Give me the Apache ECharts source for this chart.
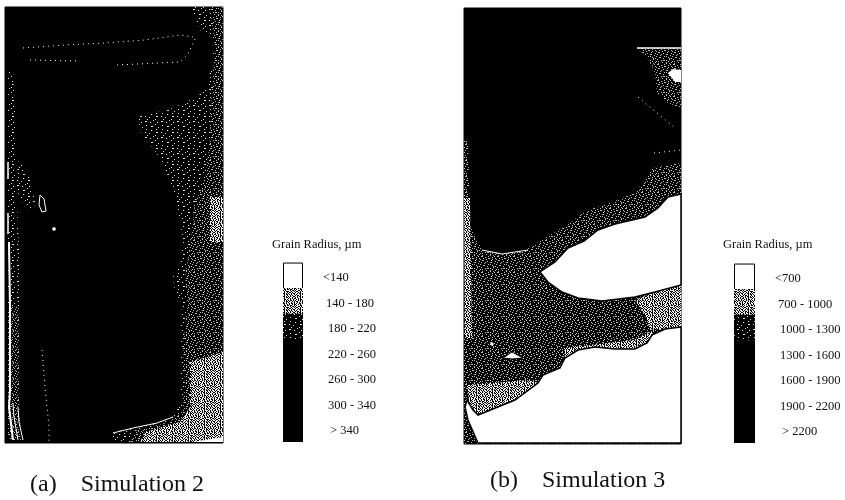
<!DOCTYPE html>
<html>
<head>
<meta charset="utf-8">
<style>html,body{margin:0;padding:0;background:#fff}#main{width:845px;height:500px;filter:blur(0.35px)}</style>
<script src="https://cdn.jsdelivr.net/npm/echarts@6/dist/echarts.min.js"></script>
</head>
<body>
<div id="main"></div>
<script>
// legend classes
var labelsA = ['<140', '140 - 180', '180 - 220', '220 - 260', '260 - 300', '300 - 340', '> 340'];
var labelsB = ['<700', '700 - 1000', '1000 - 1300', '1300 - 1600', '1600 - 1900', '1900 - 2200', '> 2200'];
var bandValues = [1, 1, 1, 1, 1, 1, 1];

// Simulation 2 regions, panel units
var a_coarse = [[185,0],[218,0],[218,435],[112,435],[107,431],[108,425],[128,421],[152,416],[168,410],[177,393],[175,373],[175,343],[177,296],[170,286],[168,270],[175,256],[178,233],[177,226],[172,200],[167,180],[158,156],[148,141],[138,130],[132,110],[168,101],[192,90],[202,80],[208,50],[207,31],[195,23],[190,10]];
var a_mid = [[205,0],[218,0],[218,435],[125,435],[130,424],[165,415],[178,400],[180,378],[178,340],[183,296],[180,270],[185,240],[190,195],[200,175],[205,130],[207,80],[210,40]];
var a_fine1 = [[205,190],[218,190],[218,235],[205,235]];
var a_fine2 = [[218,345],[218,435],[135,435],[140,425],[175,415],[185,400],[185,355]];
var a_wedge = [[188,435],[218,435],[218,430]];
var a_strip1 = [[3,65],[8,65],[12,140],[10,150],[14,240],[14,300],[3,300]];
var a_strip2 = [[3,300],[14,300],[14,390],[16,433],[3,433]];
var a_patch = [[14,152],[27,175],[30,195],[28,205],[20,200],[10,180]];
var a_dot = [[47,221],[50,220],[51,223],[48,224]];
var a_island = [[35,188],[39,192],[41,204],[37,205],[34,198],[35,188]];
var a_edge = [[108,426],[128,421],[152,416],[168,410]];
var a_line1 = [[3,155],[3,172]];
var a_line2 = [[3,206],[3,227]];
var a_line3 = [[4,235],[5,300],[5,383],[4,400],[8,433]];
var a_line4 = [[8,396],[9,410],[13,433]];
var a_line5 = [[13,400],[14,415],[18,433]];
var a_dots1 = [[18,41],[60,38],[100,36],[140,33],[175,28],[188,30]];
var a_dots2 = [[25,53],[75,54]];
var a_dots3 = [[112,58],[175,55],[183,47],[190,32]];
var a_dots4 = [[37,343],[40,380],[44,420],[44,435]];

// Simulation 3 regions, panel units
var b_coarse = [[217,155],[188,160],[179,174],[171,185],[148,194],[118,204],[108,214],[86,227],[61,242],[38,246],[18,242],[6,217],[4,132],[0,132],[0,436],[217,436]];
var b_left = [[0,190],[6,190],[8,330],[1,330]];
var b_mouth = [[217,277],[196,282],[171,292],[181,307],[186,322],[217,319]];
var b_bottom = [[3,377],[66,372],[74,375],[51,392],[14,407],[6,400]];
var b_upper = [[217,160],[188,165],[180,176],[172,188],[150,196],[120,206],[110,216],[95,228],[104,232],[118,222],[134,216],[151,209],[181,200],[194,189],[204,186],[217,186]];
var b_lower = [[100,340],[170,332],[190,322],[183,335],[171,341],[151,341],[131,339],[114,342],[101,350]];
var b_white1 = [[217,186],[204,189],[194,200],[181,209],[151,216],[134,222],[120,233],[104,240],[91,254],[76,264],[84,274],[98,284],[114,290],[138,293],[171,289],[191,284],[217,277]];
var b_white2 = [[217,319],[201,321],[188,327],[183,335],[171,341],[151,341],[131,339],[114,342],[101,350],[96,360],[79,367],[74,375],[51,392],[14,407],[9,402],[3,392],[1,399],[4,412],[14,435],[217,435]];
var b_eye = [[39,350],[48,344],[59,350],[48,351]];
var b_dot = [[26,336],[28,334],[30,336],[28,338]];
var b_patch = [[173,40],[217,40],[217,100],[204,95],[193,85],[191,65],[183,49]];
var b_blob = [[204,65],[209,61],[217,62],[217,74],[211,74]];
var b_top = [[173,40],[217,40]];
var b_arc = [[18,242],[38,246],[64,242]];
var b_dots1 = [[174,89],[211,120]];
var b_dots2 = [[190,145],[217,142]];

// halftone cells of the scan
function halftone(rows, dot) {
    var c = document.createElement('canvas');
    c.width = rows[0].length;
    c.height = rows.length;
    var ctx = c.getContext('2d');
    ctx.fillStyle = '#000';
    ctx.fillRect(0, 0, c.width, c.height);
    ctx.fillStyle = dot;
    rows.forEach(function (r, y) {
        for (var x = 0; x < r.length; x++) {
            if (r[x] === '#') ctx.fillRect(x, y, 1, 1);
        }
    });
    return {image: c, repeat: 'repeat'};
}
var sparse = halftone([
    '................',
    '..#.........#...',
    '.......#........',
    '................',
    '.#..........##..',
    '.....#..........',
    '................',
    '...#.......#....',
    '.........#......',
    '.##.............',
    '......#......#..',
    '................',
    '...........#....',
    '..#.............',
    '.......##.......',
    '..............#.'
], '#ddd');
var mid = halftone([
    '.##.....#.....#.',
    '.....#......#...',
    '...#....##.....#',
    '#.....#.....#...',
    '..##.......#....',
    '.......#.......#',
    '.#...#....##....',
    '....#.........#.',
    '#.......#.#.....',
    '...##.......#...',
    '.......#.....#.#',
    '.#...........#..',
    '.....#.##.#.....',
    '#.#.........#...',
    '......#...#....#',
    '..#.......#..#..'
], '#bbb');
var fine = halftone([
    '#.##.#..##.#.##.',
    '.#..##.#.###..#.',
    '##.#..#.##..#.##',
    '.##.##.#..##.#..',
    '#..#.##.##.#.##.',
    '.##.#..##.#..#.#',
    '#.#.##.#.###.#..',
    '##.#.##.#..#.##.',
    '.#.##..##.#..#.#',
    '#.##.##.#.##.#..',
    '.#.#.#..##.#.###',
    '##.##.##.#.#..#.',
    '.#..#.#.##.#.#.#',
    '#.##.#.#..##.#..',
    '.##.##.##.#.##.#',
    '#.#..#.#.##..#.#'
], '#eee');

function poly(points, grid, fill, stroke, lw) {
    return {
        type: 'custom',
        coordinateSystem: 'cartesian2d',
        xAxisIndex: grid,
        yAxisIndex: grid,
        data: points,
        silent: true,
        animation: false,
        renderItem: function (params, api) {
            if (params.dataIndex !== 0) return null;
            return {
                type: 'polygon',
                shape: {points: points.map(function (p) { return api.coord(p); })},
                style: {fill: fill, stroke: stroke || null, lineWidth: lw || 0}
            };
        }
    };
}

function line(points, grid, width, dash) {
    return {
        type: 'line',
        xAxisIndex: grid,
        yAxisIndex: grid,
        data: points,
        showSymbol: false,
        silent: true,
        animation: false,
        lineStyle: {color: '#fff', width: width, type: dash ? [1, 4] : 'solid'}
    };
}

function legendSeries(grid) {
    var fills = ['#fff', fine, sparse, '#000', '#000', '#000', '#000'];
    return {
        type: 'bar',
        xAxisIndex: grid,
        yAxisIndex: grid,
        barWidth: 26.5,
        silent: true,
        animation: false,
        data: bandValues.map(function (v, i) {
            return {value: v, itemStyle: {color: fills[i], borderColor: '#000', borderWidth: i === 0 ? 1 : 0}};
        })
    };
}

function legendLabels(list) {
    var indent = [0, 3, 5, 5, 5, 5, 7];
    return list.map(function (t, i) {
        return {value: t, textStyle: {padding: [0, 0, 0, indent[i]]}};
    });
}

function panelX(grid, max) {
    return {gridIndex: grid, type: 'value', min: 0, max: max, show: false};
}
function panelY(grid, max) {
    return {gridIndex: grid, type: 'value', min: 0, max: max, inverse: true, show: false};
}
function bandY(grid, list) {
    return {gridIndex: grid, type: 'category', inverse: true, data: list, show: false};
}
// labels sit on their own axis, a touch lower than the bands
function labelY(grid, list) {
    return {
        gridIndex: grid, type: 'category', inverse: true, position: 'right', data: legendLabels(list),
        axisLine: {show: false}, axisTick: {show: false},
        axisLabel: {margin: 20, align: 'left', interval: 0, color: '#111', fontFamily: 'Liberation Serif', fontSize: 12.5}
    };
}

var serif = 'Liberation Serif';
var option = {
    backgroundColor: '#fff',
    animation: false,
    title: [
        {text: 'Grain Radius, µm', left: 272, top: 238, textStyle: {fontFamily: serif, fontSize: 12.5, fontWeight: 'normal', color: '#111'}, padding: 0},
        {text: 'Grain Radius, µm', left: 723, top: 238, textStyle: {fontFamily: serif, fontSize: 12.5, fontWeight: 'normal', color: '#111'}, padding: 0},
        {text: '(a)    Simulation 2', left: 30, top: 473, textStyle: {fontFamily: serif, fontSize: 24, fontWeight: 'normal', color: '#111'}, padding: 0},
        {text: '(b)    Simulation 3', left: 490, top: 469, textStyle: {fontFamily: serif, fontSize: 24, fontWeight: 'normal', color: '#111'}, padding: 0}
    ],
    grid: [
        {left: 5, top: 7, width: 218, height: 436, show: true, backgroundColor: '#000', borderColor: '#000', borderWidth: 1},
        {left: 464, top: 8, width: 217, height: 436, show: true, backgroundColor: '#000', borderColor: '#000', borderWidth: 1},
        {left: 283, top: 263, width: 20, height: 179},
        {left: 734, top: 264, width: 21, height: 179},
        {left: 283, top: 265, width: 20, height: 179},
        {left: 734, top: 266, width: 21, height: 179}
    ],
    xAxis: [
        panelX(0, 218), panelX(1, 217),
        {gridIndex: 2, type: 'value', min: 0, max: 1, show: false},
        {gridIndex: 3, type: 'value', min: 0, max: 1, show: false},
        {gridIndex: 4, type: 'value', min: 0, max: 1, show: false},
        {gridIndex: 5, type: 'value', min: 0, max: 1, show: false}
    ],
    yAxis: [
        panelY(0, 436), panelY(1, 436),
        bandY(2, labelsA), bandY(3, labelsB),
        labelY(4, labelsA), labelY(5, labelsB)
    ],
    series: [
        poly(a_coarse, 0, sparse),
        poly(a_mid, 0, mid),
        poly(a_fine1, 0, fine),
        poly(a_fine2, 0, fine),
        poly(a_strip1, 0, sparse),
        poly(a_strip2, 0, mid),
        poly(a_patch, 0, sparse),
        poly(a_wedge, 0, '#fff'),
        poly(a_dot, 0, '#fff'),
        line(a_island, 0, 1),
        line(a_edge, 0, 1),
        line(a_line1, 0, 1.5),
        line(a_line2, 0, 1.5),
        line(a_line3, 0, 2),
        line(a_line4, 0, 1),
        line(a_line5, 0, 1),
        line(a_dots1, 0, 1, true),
        line(a_dots2, 0, 1, true),
        line(a_dots3, 0, 1, true),
        line(a_dots4, 0, 1, true),

        poly(b_coarse, 1, mid),
        poly(b_left, 1, fine),
        poly(b_mouth, 1, fine),
        poly(b_bottom, 1, fine),
        poly(b_upper, 1, mid),
        poly(b_lower, 1, fine),
        poly(b_patch, 1, mid),
        poly(b_white1, 1, '#fff', '#000', 1.5),
        poly(b_white2, 1, '#fff', '#000', 1.5),
        poly(b_eye, 1, '#fff', '#000', 1),
        poly(b_dot, 1, '#fff'),
        poly(b_blob, 1, '#fff'),
        line(b_top, 1, 1.5),
        line(b_arc, 1, 1),
        line(b_dots1, 1, 1, true),
        line(b_dots2, 1, 1, true),

        legendSeries(2),
        legendSeries(3)
    ]
};

var myChart = echarts.init(document.getElementById('main'), null, {renderer: 'canvas'});
myChart.setOption(option);
</script>
</body>
</html>
